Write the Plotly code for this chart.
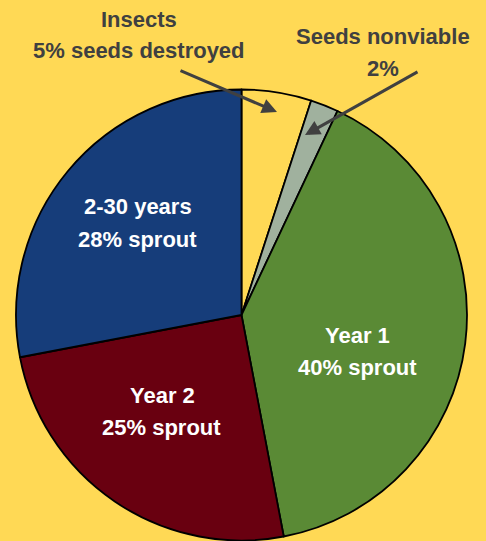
import plotly.graph_objects as go

W, H = 486, 541

# Data
categories = ["Insects", "Seeds nonviable", "Year 1", "Year 2", "2-30 years"]
values = [5, 2, 40, 25, 28]
colors = ["#FFD955", "#A0B19E", "#5A8A35", "#690010", "#163D7A"]

inside_lines = [
    ("2-30 years", 137.5, 207), ("28% sprout", 137.5, 239),
    ("Year 1", 357.5, 335), ("40% sprout", 357.5, 367),
    ("Year 2", 162, 395), ("25% sprout", 161, 427),
]
outside_lines = [
    ("Insects", 139, 19), ("5% seeds destroyed", 139, 51),
    ("Seeds nonviable", 382.5, 37), ("2%", 383, 68),
]
arrows = [  # (tail_x, tail_y, tip_x, tip_y) in pixels
    (179, 70, 277, 112),
    (419, 71, 305, 135),
]

FONT = "Liberation Sans, Arial, Helvetica, sans-serif"

fig = go.Figure(go.Pie(
    labels=categories, values=values, sort=False, direction="clockwise",
    rotation=0, textinfo="none", hoverinfo="label+percent",
    marker=dict(colors=colors, line=dict(color="#000000", width=1.8)),
    domain=dict(x=[16 / W, 467 / W], y=[0, 452 / H]),
))

ann = []
for t, x, y in inside_lines:
    ann.append(dict(text=f"<b>{t}</b>", x=x / W, y=1 - y / H, xref="paper", yref="paper",
                    xanchor="center", yanchor="middle", showarrow=False,
                    font=dict(family=FONT, size=22, color="white")))
for t, x, y in outside_lines:
    ann.append(dict(text=f"<b>{t}</b>", x=x / W, y=1 - y / H, xref="paper", yref="paper",
                    xanchor="center", yanchor="middle", showarrow=False,
                    font=dict(family=FONT, size=22, color="#404040")))
for tx, ty, hx, hy in arrows:
    ann.append(dict(text="", x=hx / W, y=1 - hy / H, xref="paper", yref="paper",
                    ax=tx - hx, ay=ty - hy, showarrow=True, arrowhead=2, arrowsize=1,
                    arrowwidth=3, arrowcolor="#404040", standoff=0))

fig.update_layout(
    width=W, height=H, margin=dict(l=0, r=0, t=0, b=0),
    paper_bgcolor="#FFD955", plot_bgcolor="#FFD955",
    showlegend=False, annotations=ann,
)

fig.write_html(
    "out.html",
    config={"displayModeBar": False},
    post_script="document.body.style.margin='0';document.body.style.overflow='hidden';"
                "document.body.style.background='#FFD955';",
)
